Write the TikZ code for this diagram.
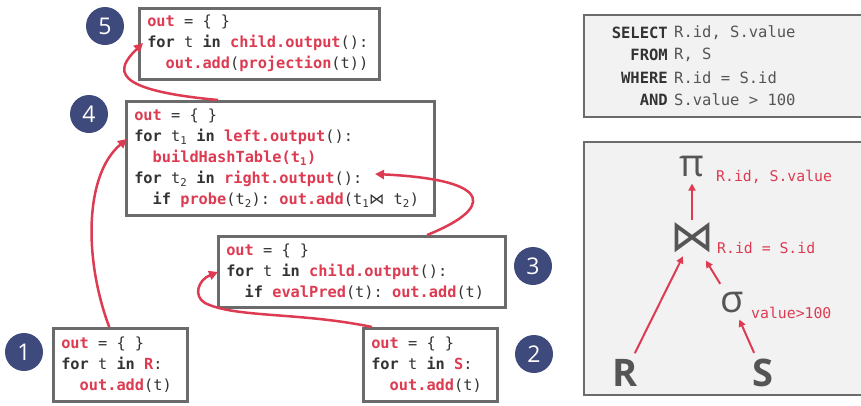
\documentclass[tikz,border=0pt]{standalone}
\usepackage{fontspec}
\setmainfont{Open Sans}
\setmonofont{DejaVu Sans Mono}
\newfontfamily\symfont{DejaVu Sans}
\usetikzlibrary{arrows.meta}
\definecolor{hlred}{HTML}{DD3B52}
\definecolor{navy}{HTML}{3E4A7C}
\definecolor{boxgray}{HTML}{6B6B6B}
\definecolor{panel}{HTML}{F2F2F2}
\definecolor{ink}{HTML}{333333}
\definecolor{opgray}{HTML}{555555}
\newcommand{\hl}[1]{\textcolor{hlred}{\textbf{#1}}}
\newcommand{\kw}[1]{\textbf{#1}}
\newcommand{\ind}{\hphantom{xx}}
\newcommand{\monosp}{\spaceskip=0.602em\xspaceskip=0.602em}
\tikzset{codebox/.style={draw=boxgray, line width=2.5pt, fill=white, anchor=north west, align=flush left,
  inner xsep=8pt, text=ink, font=\ttfamily\fontsize{15.3}{21}\selectfont\monosp},
%numbered steps
stepnum/.style={circle, fill=navy, text=white, minimum size=38pt, inner sep=0pt, font=\fontsize{23}{23}\selectfont},
flow/.style={hlred, line width=2.5pt, -{Triangle[length=9pt,width=9pt]}},
panelbox/.style={draw=boxgray, line width=2.5pt, fill=panel},
relop/.style={text=opgray, inner sep=6pt, font=\fontsize{38}{38}\selectfont},
oplabel/.style={text=hlred, anchor=west, inner sep=0pt, font=\ttfamily\fontsize{14.8}{16}\selectfont\monosp},
treeflow/.style={hlred, line width=2pt, -{Triangle[length=7pt,width=7pt]}}}

\begin{document}
\begin{tikzpicture}[x=1pt,y=-1pt]
\useasboundingbox (0,0) rectangle (861,405);

% operator code
\node[codebox, text width=224pt, minimum height=71pt] (b5) at (138,7)
  {\hl{out} = \{ \}\\\kw{for} t \kw{in} \hl{child.output}():\\\ind\hl{out.add}(\hl{projection}(t))};
\node[codebox, text width=292pt, minimum height=114pt] (b4) at (125,100)
  {\hl{out} = \{ \}\\
   \kw{for} t\textsubscript{1} \kw{in} \hl{left.output}():\\
   \ind\hl{buildHashTable(t\textsubscript{1})}\\
   \kw{for} t\textsubscript{2} \kw{in} \hl{right.output}():\\
   \ind\kw{if} \hl{probe}(t\textsubscript{2}): \hl{out.add}(t\textsubscript{1}{\symfont ⋈} t\textsubscript{2})};
\node[codebox, text width=271pt, minimum height=71pt] (b3) at (217,235)
  {\hl{out} = \{ \}\\\kw{for} t \kw{in} \hl{child.output}():\\\ind\kw{if} \hl{evalPred}(t): \hl{out.add}(t)};
\node[codebox, text width=118pt, minimum height=73pt] (b1) at (52,327)
  {\hl{out} = \{ \}\\\kw{for} t \kw{in} \hl{R}:\\\ind\hl{out.add}(t)};
\node[codebox, text width=118pt, minimum height=73pt] (b2) at (362,327)
  {\hl{out} = \{ \}\\\kw{for} t \kw{in} \hl{S}:\\\ind\hl{out.add}(t)};

\foreach \n/\x/\y in {1/24/352, 2/534/354, 3/533/266, 4/89/114, 5/105/26}
  \node[stepnum] (c\n) at (\x,\y) {\n};

% data flow
\coordinate (in4) at ([xshift=2pt,yshift=-39pt]b4.north west);
\coordinate (in3) at ([xshift=1pt,yshift=-37pt]b3.north west);
\coordinate (in4b) at ([xshift=250pt,yshift=-74pt]b4.north west);
\coordinate (in5) at ([xshift=5pt,yshift=-36pt]b5.north west);
\draw[flow] ([xshift=-11pt]b1.north) .. controls (84,260) and (84,175) .. (in4);
\draw[flow] ([xshift=10pt]b2.north west) .. controls (300,312) and (235,318) .. (205,303)
  .. controls (193,296) and (198,280) .. (in3);
\draw[flow] ([xshift=210pt]b3.north west) .. controls (490,210) and (500,180) .. (in4b);
\draw[flow] ([xshift=93pt]b4.north west) .. controls (110,90) and (115,70) .. (in5);

% query
\draw[panelbox] (584,15) rectangle (870,117);
\foreach \k/\t/\y [count=\i] in {SELECT/{R.id, S.value}/33, FROM/{R, S}/55, WHERE/{R.id = S.id}/78, AND/{S.value > 100}/100}
{
  \node[anchor=east, inner sep=0pt, text=ink, font=\ttfamily\bfseries\fontsize{15.5}{17}\selectfont] (kw\i) at (668,\y) {\k};
  \node[anchor=west, inner sep=0pt, text=opgray, font=\ttfamily\fontsize{15.5}{17}\selectfont\monosp] (sq\i) at (674,\y) {\t};
}

% plan tree
\draw[panelbox] (584,142) rectangle (870,395);
\node[relop] (proj) at (692,167) {π};
\node[relop, font=\symfont\fontsize{44}{44}\selectfont, inner sep=3pt] (join) at (692,238) {⋈};
\node[relop] (sel) at (732,303) {σ};
\node[relop, font=\bfseries\fontsize{38}{38}\selectfont] (relR) at (625,373) {R};
\node[relop, font=\bfseries\fontsize{38}{38}\selectfont] (relS) at (763,373) {S};
\node[oplabel] (projl) at (716,177) {R.id, S.value};
\node[oplabel] (joinl) at (717,248) {R.id = S.id};
\node[oplabel] (sell) at (751,313) {value>100};

\foreach \a/\b in {relR/join, relS/sel, join/proj}
  \draw[treeflow] (\a) -- (\b);
\draw[treeflow, shorten <=3pt, shorten >=5pt] (sel) -- (join);

\end{tikzpicture}
\end{document}
